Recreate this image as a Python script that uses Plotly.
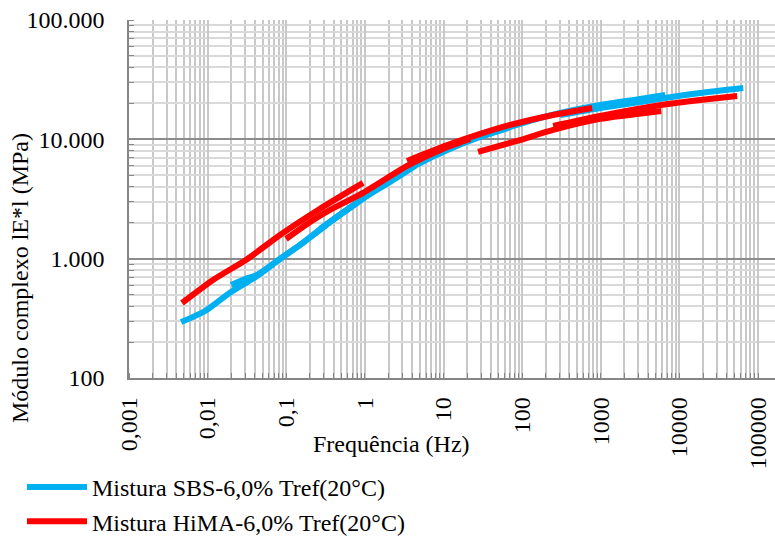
import plotly.graph_objects as go

# ---- data ----
# Mistura SBS-6,0% : segments (one per test temperature), frequency in Hz, |E*| in MPa
sbs_freq = [
    [0.0046, 0.0093, 0.019, 0.0425, 0.083, 0.15, 0.36, 1.01],
    [0.0199, 0.030, 0.0425, 0.083, 0.15, 0.36, 1.01, 2.09, 4.35],
    [0.27, 0.36, 1.01, 3.44, 10.5, 29.2, 67.0],
    [29.2, 94.0, 304.0, 982.0, 3170.0, 6590.0],
    [304.0, 982.0, 3170.0, 6590.0, 18400.0, 64800.0],
]
sbs_mod = [
    [294, 364, 516, 716, 994, 1303, 2030, 3290],
    [602, 676, 730, 994, 1303, 2030, 3290, 4395, 5985],
    [1780, 2030, 3290, 5540, 8000, 10480, 12470],
    [10480, 13460, 16640, 19430, 21810, 23560],
    [16010, 18330, 20580, 22230, 24480, 26970],
]
# Mistura HiMA-6,0%
hima_freq = [
    [0.00472, 0.0117, 0.0317, 0.0834, 0.269, 0.948],
    [0.0993, 0.201, 0.360, 0.948, 3.44, 10.5, 21.8],
    [3.44, 10.5, 29.2, 70.3, 248.0, 778.0],
    [27.5, 86.4, 248.0, 982.0, 5870.0],
    [248.0, 982.0, 5870.0, 18400.0, 54300.0],
]
hima_mod = [
    [425, 663, 990, 1580, 2620, 4310],
    [1463, 2030, 2560, 3555, 5985, 8470, 10080],
    [6590, 8805, 11100, 13200, 16010, 18330],
    [7840, 9700, 11990, 14830, 17300],
    [12950, 15710, 19420, 21400, 23100],
]

x_tickvals = [0.001, 0.01, 0.1, 1, 10, 100, 1000, 10000, 100000]
x_ticktext = ["0,001", "0,01", "0,1", "1", "10", "100", "1000", "10000", "100000"]
y_tickvals = [100, 1000, 10000, 100000]
y_ticktext = ["100", "1.000", "10.000", "100.000"]

series = [
    ("Mistura SBS-6,0% Tref(20°C)", "#00B0F0", sbs_freq, sbs_mod),
    ("Mistura HiMA-6,0% Tref(20°C)", "#FF0000", hima_freq, hima_mod),
]

FONT = "Liberation Serif"
FS = 24

fig = go.Figure()
for name, color, fr, md in series:
    xs, ys = [], []
    for f_seg, m_seg in zip(fr, md):
        xs += list(f_seg) + [None]
        ys += list(m_seg) + [None]
    fig.add_trace(go.Scatter(
        x=xs, y=ys, mode="lines", name=name,
        line=dict(color=color, width=6, shape="spline", smoothing=0.6),
        connectgaps=False,
    ))

axis_common = dict(
    type="log",
    showline=True, linecolor="#868686", linewidth=1.5,
    tickfont=dict(family=FONT, size=FS, color="black"),
    ticks="", zeroline=False, tickmode="array",
)

fig.update_xaxes(
    **axis_common,
    range=[-3, 5.216],
    tickvals=x_tickvals, ticktext=x_ticktext, tickangle=-90,
    showgrid=True, gridcolor="#c8c8c8", gridwidth=1.5,
    minor=dict(dtick="D1", showgrid=True, gridcolor="#c8c8c8", gridwidth=1.5,
               ticks="inside", ticklen=5, tickcolor="#868686"),
    ticklabelstandoff=8,
)
fig.update_yaxes(
    **axis_common,
    range=[2, 5],
    tickvals=y_tickvals, ticktext=y_ticktext,
    showgrid=True, gridcolor="#8c8c8c", gridwidth=1.5,
    minor=dict(dtick="D1", showgrid=True, gridcolor="#d9d9d9", gridwidth=1.5,
               ticks="inside", ticklen=5, tickcolor="#868686"),
    ticklabelstandoff=18,
)

fig.add_annotation(text="Frequência (Hz)", xref="paper", yref="paper",
                   x=(391 - 129) / 646, y=-(444 - 378) / 358, showarrow=False,
                   font=dict(family=FONT, size=FS, color="black"),
                   xanchor="center", yanchor="middle")
fig.add_annotation(text="Módulo complexo lE*l (MPa)", xref="paper", yref="paper",
                   x=-(129 - 20) / 646, y=(378 - 278) / 358, showarrow=False,
                   textangle=-90,
                   font=dict(family=FONT, size=FS, color="black"),
                   xanchor="center", yanchor="middle")

fig.update_layout(
    width=775, height=538,
    margin=dict(l=129, r=0, t=20, b=160, autoexpand=False),
    paper_bgcolor="white", plot_bgcolor="white",
    font=dict(family=FONT, size=FS, color="black"),
    showlegend=True,
    legend=dict(orientation="v", x=-(129 - 22) / 646, y=-(465 - 378) / 358,
                xanchor="left", yanchor="top",
                font=dict(family=FONT, size=FS, color="black"),
                bgcolor="rgba(0,0,0,0)", itemwidth=60, tracegroupgap=0),
)

fig.write_html("out.html")
